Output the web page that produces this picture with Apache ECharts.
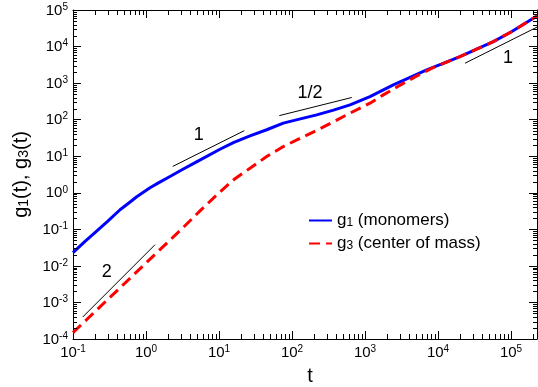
<!DOCTYPE html>
<html><head><meta charset="utf-8">
<script src="https://cdn.jsdelivr.net/npm/echarts@6/dist/echarts.min.js"></script>
<style>html,body{margin:0;padding:0;background:#fff}#c{width:538px;height:387px}</style>
</head><body><div id="c"></div>
<script>
const FONT = '"Liberation Sans", Arial, Helvetica, sans-serif';
const X_MIN = 0.1, X_MAX = 2.27e5, Y_MIN = 1e-4, Y_MAX = 1e5;

// g1 (monomers)
const tG1 = [0.1, 0.15, 0.2, 0.3, 0.441, 0.6, 0.746, 1.134, 1.5, 2.13, 3.2, 5, 10.3, 16, 26.6, 45, 76, 130, 218, 370, 624, 1170, 2443, 4000, 7000, 12000, 20000, 35000, 57300, 100000, 227000];
const vG1 = [0.023, 0.0488, 0.081, 0.167, 0.343, 0.55, 0.78, 1.37, 1.89, 2.79, 4.4, 7.1, 15.5, 24, 36, 53, 80.2, 105, 135, 183, 254, 428, 893, 1390, 2296, 3530, 5300, 8770, 13600, 25000, 68500];
// g3 (center of mass)
const tG3 = [0.1, 0.2, 0.5, 1, 2, 3, 5.5, 10, 16, 26.6, 45, 76, 130, 218, 370, 624, 1170, 1780, 3000, 5000, 8550, 20000, 35000, 57300, 100000, 227000];
const vG3 = [1.5e-4, 5.6e-4, 3.2e-3, 0.012, 0.045, 0.097, 0.32, 1.0, 2.3, 4.7, 9.8, 18.4, 31, 51, 87, 151, 282, 476, 870, 1530, 2650, 5300, 8770, 13600, 25000, 68500];

// reference slope lines
const refT_2 = [0.136, 1.33], refG_2 = [4.0e-4, 0.038];
const refT_1a = [2.32, 22.2], refG_1a = [5.25, 50];
const refT_half = [67, 658], refG_half = [129, 404];
const refT_1b = [23400, 227000], refG_1b = [3500, 34000];
const refLabels = ['2', '1', '1/2', '1'];
const refLabelT = [0.29, 5.3, 177, 91000];
const refLabelG = [6.6e-3, 38, 530, 4800];

const zip = (a, b) => a.map((v, i) => [v, b[i]]);

// minor tick positions (2..9 per decade)
const minorX = [], minorY = [];
for (let e = -1; e <= 5; e++) for (let m = 2; m <= 9; m++) { const v = m * Math.pow(10, e); if (v < X_MAX) minorX.push([v, Y_MIN]); }
for (let e = -4; e <= 4; e++) for (let m = 2; m <= 9; m++) minorY.push([X_MIN, m * Math.pow(10, e)]);

function fmtPow(v) {
  const l = Math.log10(v), e = Math.round(l);
  if (Math.abs(l - e) > 1e-6) return '';
  return '{b|10}{s|' + e + '}';
}
const powRich = {
  b: { fontSize: 15, fontFamily: FONT, color: '#000', lineHeight: 16, padding: [7, 0, 0, 0], verticalAlign: 'bottom' },
  s: { fontSize: 10, fontFamily: FONT, color: '#000', lineHeight: 12, verticalAlign: 'top' }
};
const subRich = (big, small) => ({
  n: { fontSize: big, fontFamily: FONT, color: '#000', lineHeight: big, verticalAlign: 'top' },
  sub: { fontSize: small, fontFamily: FONT, color: '#000', lineHeight: small, padding: [Math.round(big * 0.55), 0, 0, 0], verticalAlign: 'bottom' }
});

const axisCommon = {
  type: 'log', logBase: 10, splitLine: { show: false },
  axisLine: { show: true, onZero: false, lineStyle: { color: '#000', width: 1 } },
  axisTick: { show: true, inside: true, length: 8, lineStyle: { color: '#000', width: 1 } },
  minorTick: { show: false }
};

const chart = echarts.init(document.getElementById('c'), null, { renderer: 'canvas' });
chart.setOption({
  animation: false,
  backgroundColor: '#fff',
  grid: { left: 73, right: 1, top: 10, bottom: 48, containLabel: false, outerBoundsMode: 'none' },
  xAxis: [
    Object.assign({}, axisCommon, {
      position: 'bottom', min: X_MIN, max: X_MAX, interval: 1,
      axisLabel: { show: true, margin: 5, formatter: fmtPow, rich: powRich, showMinLabel: true, showMaxLabel: true, hideOverlap: false },
      name: 't', nameLocation: 'middle', nameGap: 27,
      nameTextStyle: { fontSize: 20, fontFamily: FONT, color: '#000', padding: [0, 0, 0, 10] }
    }),
    Object.assign({}, axisCommon, { position: 'top', min: X_MIN, max: X_MAX, interval: 1, axisLabel: { show: false } })
  ],
  yAxis: [
    Object.assign({}, axisCommon, {
      position: 'left', min: Y_MIN, max: Y_MAX, interval: 1,
      axisLabel: { show: true, margin: 5, formatter: fmtPow, rich: powRich, hideOverlap: false },
      name: '{n|g}{sub|1}{n|(t), g}{sub|3}{n|(t)}', nameLocation: 'middle', nameGap: 42, nameRotate: 90,
      nameTextStyle: { rich: subRich(20, 14) }
    }),
    Object.assign({}, axisCommon, { position: 'right', min: Y_MIN, max: Y_MAX, interval: 1, axisLabel: { show: false } })
  ],
  legend: {
    data: ['g1', 'g3'], orient: 'vertical', left: 303, top: 203,
    itemWidth: 23, itemHeight: 14, itemGap: 2,
    itemStyle: { opacity: 0 },
    formatter: function (name) {
      return name === 'g1' ? '{n|g}{sub|1}{n| (monomers)}' : '{n|g}{sub|3}{n| (center of mass)}';
    },
    textStyle: { rich: subRich(17, 12) }
  },
  series: [
    {
      name: 'minorX', type: 'custom', silent: true, clip: false, xAxisIndex: 0, yAxisIndex: 0, data: minorX, z: 5,
      renderItem: function (p, api) {
        const v = api.value(0);
        const b = api.coord([v, Y_MIN]), t = api.coord([v, Y_MAX]);
        const x = Math.round(b[0]) + 0.5;
        return { type: 'group', children: [
          { type: 'line', shape: { x1: x, y1: b[1], x2: x, y2: b[1] - 5 }, style: { stroke: '#000', lineWidth: 1 } },
          { type: 'line', shape: { x1: x, y1: t[1], x2: x, y2: t[1] + 5 }, style: { stroke: '#000', lineWidth: 1 } }
        ] };
      }
    },
    {
      name: 'minorY', type: 'custom', silent: true, clip: false, xAxisIndex: 0, yAxisIndex: 0, data: minorY, z: 5,
      renderItem: function (p, api) {
        const v = api.value(1);
        const l = api.coord([X_MIN, v]), r = api.coord([X_MAX, v]);
        const y = Math.round(l[1]) + 0.5;
        return { type: 'group', children: [
          { type: 'line', shape: { x1: l[0], y1: y, x2: l[0] + 4, y2: y }, style: { stroke: '#000', lineWidth: 1 } },
          { type: 'line', shape: { x1: r[0], y1: y, x2: r[0] - 4, y2: y }, style: { stroke: '#000', lineWidth: 1 } }
        ] };
      }
    },
    { name: 'ref2', type: 'line', silent: true, symbol: 'none', data: zip(refT_2, refG_2), lineStyle: { color: '#000', width: 1 } },
    { name: 'ref1a', type: 'line', silent: true, symbol: 'none', data: zip(refT_1a, refG_1a), lineStyle: { color: '#000', width: 1 } },
    { name: 'refHalf', type: 'line', silent: true, symbol: 'none', data: zip(refT_half, refG_half), lineStyle: { color: '#000', width: 1 } },
    { name: 'ref1b', type: 'line', silent: true, symbol: 'none', data: zip(refT_1b, refG_1b), lineStyle: { color: '#000', width: 1 } },
    {
      name: 'g1', type: 'line', symbol: 'none', smooth: false,
      data: zip(tG1, vG1), lineStyle: { color: '#0000ff', width: 3, join: 'round' }, itemStyle: { color: '#0000ff' }, z: 3
    },
    {
      name: 'g3', type: 'line', symbol: 'none', smooth: false,
      data: zip(tG3, vG3), lineStyle: { color: '#ff0000', width: 3, type: [11, 6] }, itemStyle: { color: '#ff0000' }, z: 4
    },
    {
      name: 'refLabels', type: 'custom', silent: true, clip: false, z: 6,
      data: refLabels.map((s, i) => [refLabelT[i], refLabelG[i], i]),
      renderItem: function (p, api) {
        const c = api.coord([api.value(0), api.value(1)]);
        return { type: 'text', x: c[0], y: c[1], style: { text: refLabels[api.value(2)], fill: '#000', font: '18px ' + FONT, align: 'center', verticalAlign: 'middle' } };
      }
    }
  ]
});
</script></body></html>
